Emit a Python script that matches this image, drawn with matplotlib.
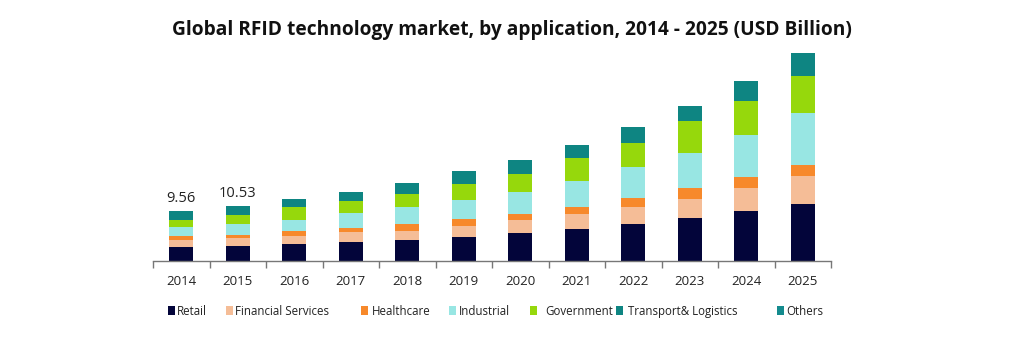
import numpy as np
import matplotlib
matplotlib.use('Agg')
import matplotlib.pyplot as plt
from matplotlib.patches import Rectangle

years = ['2014', '2015', '2016', '2017', '2018', '2019', '2020', '2021', '2022', '2023', '2024', '2025']

# USD billion
retail     = [2.75, 2.85, 3.23, 3.73, 4.05, 4.68, 5.38, 6.14, 7.15, 8.23, 9.56, 10.89]
financial  = [1.20, 1.46, 1.58, 1.77, 1.65, 2.09, 2.41, 2.91, 3.23, 3.73, 4.49, 5.44]
healthcare = [0.76, 0.70, 0.89, 0.89, 1.33, 1.33, 1.27, 1.33, 1.77, 2.03, 2.03, 2.09]
industrial = [1.77, 2.09, 2.22, 2.85, 3.35, 3.54, 4.18, 5.00, 5.82, 6.71, 7.97, 9.87]
government = [1.46, 1.71, 2.34, 2.28, 2.41, 3.04, 3.42, 4.24, 4.56, 6.01, 6.52, 7.03]
transport  = [1.62, 1.72, 1.58, 1.77, 2.09, 2.47, 2.66, 2.53, 3.04, 3.04, 3.86, 4.49]
others     = [0, 0, 0, 0, 0, 0, 0, 0, 0, 0, 0, 0]

labels = ['Retail', 'Financial Services', 'Healthcare', 'Industrial', 'Government',
          'Transport& Logistics', 'Others']
colors = ['#03053a', '#f5bd97', '#f7892b', '#98e6e3', '#96d80c', '#0e8582', '#148b8e']
shown_totals = {0: '9.56', 1: '10.53'}

series = [retail, financial, healthcare, industrial, government, transport, others]

fig = plt.figure(figsize=(10.24, 3.41), dpi=100)
ax = fig.add_axes([153/1024, 80/341, 678/1024, 209/341])

x = np.arange(len(years))
bottom = np.zeros(len(years))
for vals, c in zip(series, colors):
    ax.bar(x, vals, width=0.42, bottom=bottom, color=c, linewidth=0)
    bottom += np.array(vals)

for i, txt in shown_totals.items():
    ax.text(x[i], bottom[i] + 1.0, txt, ha='center', va='bottom', fontsize=10.5,
            color='#222222', family='Open Sans')

ax.set_xlim(-0.5, len(years) - 0.5)
ax.set_ylim(0, 40)
for s in ['top', 'right', 'left']:
    ax.spines[s].set_visible(False)
ax.spines['bottom'].set_color('#777777')
ax.spines['bottom'].set_linewidth(1)
ax.set_yticks([])
ax.set_xticks(x)
ax.set_xticklabels(years, fontsize=9.5, color='#222222', family='Open Sans')
ax.tick_params(axis='x', which='major', length=0, pad=10)
ax.set_xticks(np.arange(-0.5, len(years)), minor=True)
ax.tick_params(axis='x', which='minor', length=5, color='#777777', width=1)

fig.text(0.5, 1 - 30 / 341, 'Global RFID technology market, by application, 2014 - 2025 (USD Billion)',
         ha='center', va='center', fontsize=13.8, fontweight='bold', color='#111111',
         family='Open Sans')

# legend laid out by hand to follow the original spacing
mark_x = [168, 226, 361, 449, 530, 616, 777]
text_x = [177, 235, 372, 459, 545, 628, 786]
for mx, tx, lab, c in zip(mark_x, text_x, labels, colors):
    fig.patches.append(Rectangle((mx / 1024, 1 - 315 / 341), 7 / 1024, 9 / 341,
                                 transform=fig.transFigure, color=c, linewidth=0))
    fig.text(tx / 1024, 1 - 315 / 341, lab, ha='left', va='baseline', fontsize=8.3,
             color='#222222', family='Open Sans')

fig.savefig('out.png', dpi=100)
